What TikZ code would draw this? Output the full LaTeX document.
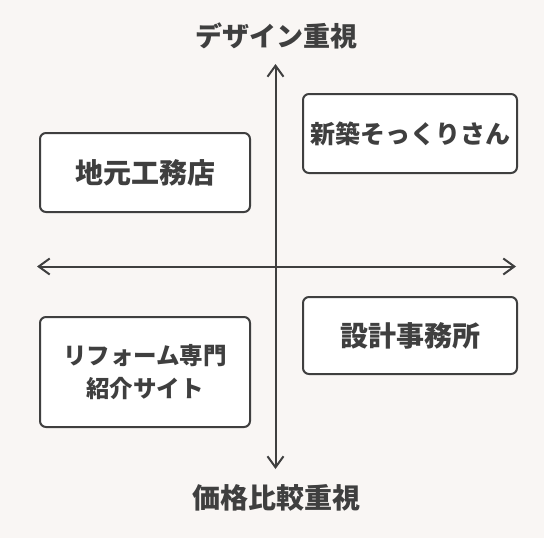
\documentclass[tikz,border=0pt]{standalone}
\usepackage{fontspec}
\setmainfont{Noto Sans CJK JP}
\usetikzlibrary{arrows.meta}
\definecolor{bg}{HTML}{F9F6F4}
\definecolor{ink}{HTML}{3F3F3F}
\tikzset{
  quad/.style={draw=ink, line width=2pt, fill=white, rounded corners=6pt, inner sep=0pt, align=center, text=ink, font=\bfseries},
  axis/.style={draw=ink, line width=2pt, {Straight Barb[length=11pt,width=16pt]}-{Straight Barb[length=11pt,width=16pt]}},
  axlabel/.style={text=ink, inner sep=0pt, font=\bfseries}
}
\begin{document}
\begin{tikzpicture}[x=1pt,y=-1pt]
\fill[bg] (0,0) rectangle (544,538);
\useasboundingbox (0,0) rectangle (544,538);
\coordinate (top) at (275.5,64);
\coordinate (bot) at (275.5,469);
\coordinate (lft) at (37,266.5);
\coordinate (rgt) at (516,266.5);
\draw[axis] (lft) -- (rgt);
\draw[axis] (bot) -- (top);
\node[axlabel, font=\fontsize{27}{30}\selectfont\bfseries] (ttop) at (276.5,36) {デザイン重視};
\node[axlabel, font=\fontsize{28}{30}\selectfont\bfseries] (tbot) at (276,498) {価格比較重視};
\node[quad, minimum width=210pt, minimum height=79pt, font=\fontsize{28}{30}\selectfont\bfseries] (jimoto) at (145,172.5) {地元工務店};
\node[quad, minimum width=214pt, minimum height=79pt, font=\fontsize{25}{28}\selectfont\bfseries] (shinchiku) at (410,133.5) {新築そっくりさん};
\node[quad, minimum width=210pt, minimum height=110pt, font=\fontsize{23.5}{33}\selectfont\bfseries] (reform) at (145,372) {リフォーム専門\\紹介サイト};
\node[quad, minimum width=214pt, minimum height=77pt, font=\fontsize{28}{30}\selectfont\bfseries] (sekkei) at (410,335.5) {設計事務所};
\end{tikzpicture}
\end{document}
